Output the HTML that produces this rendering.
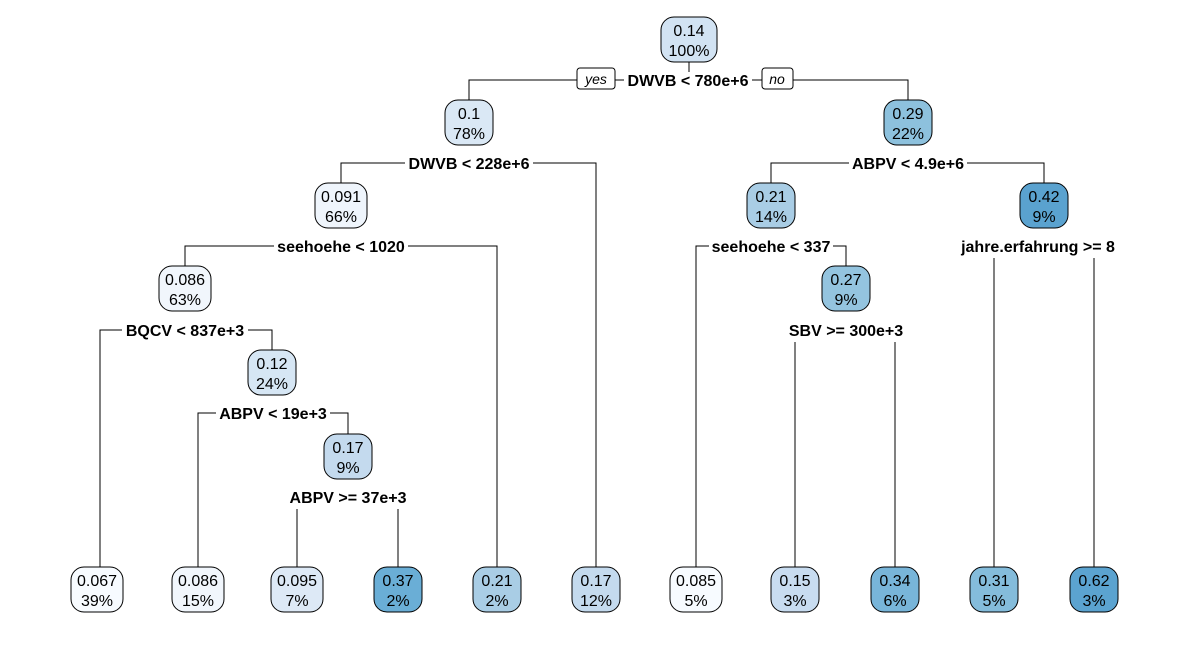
<!DOCTYPE html>
<html><head><style>body{margin:0;background:#fff}svg{display:block}
.l{paint-order:stroke;stroke:#fff;stroke-width:5px;stroke-linejoin:miter}</style></head><body>
<svg width="1200" height="668" xmlns="http://www.w3.org/2000/svg" font-family="Liberation Sans, Arial, sans-serif">
<g stroke="#000" stroke-width="1" fill="none">
<path d="M469,100V80H908V100"/>
<path d="M341,183V163H596V567"/>
<path d="M185,266V246H497V567"/>
<path d="M100,567V330H272V350"/>
<path d="M198,567V413H348V434"/>
<path d="M297,567V497H398V567"/>
<path d="M771,183V163H1044V183"/>
<path d="M696,567V246H846V266"/>
<path d="M795,567V330H895V567"/>
<path d="M994,567V246H1094V567"/>
<line x1="689" y1="62" x2="689" y2="80"/>
</g>
<g fill="#fff">
<rect x="950" y="237" width="176" height="21"/>
<rect x="283" y="488" width="130" height="21"/>
<rect x="783" y="321" width="126" height="21"/>
<rect x="624" y="72" width="128" height="17"/>
<rect x="405" y="155" width="128" height="17"/>
<rect x="274" y="238" width="134" height="17"/>
<rect x="122" y="322" width="126" height="17"/>
<rect x="216" y="405" width="114" height="17"/>
<rect x="849" y="155" width="118" height="17"/>
<rect x="709" y="238" width="124" height="17"/>
</g>
<g font-weight="bold" font-size="16" text-anchor="middle">
<text class="l" x="688" y="86">DWVB &lt; 780e+6</text>
<text class="l" x="469" y="169">DWVB &lt; 228e+6</text>
<text class="l" x="341" y="252">seehoehe &lt; 1020</text>
<text class="l" x="185" y="336">BQCV &lt; 837e+3</text>
<text class="l" x="273" y="419">ABPV &lt; 19e+3</text>
<text class="l" x="348" y="503">ABPV &gt;= 37e+3</text>
<text class="l" x="908" y="169">ABPV &lt; 4.9e+6</text>
<text class="l" x="771" y="252">seehoehe &lt; 337</text>
<text class="l" x="846" y="336">SBV &gt;= 300e+3</text>
<text class="l" x="1038" y="252">jahre.erfahrung &gt;= 8</text>
</g>
<g font-style="italic" font-size="14" text-anchor="middle">
<rect x="577" y="68" width="38" height="21" rx="3" fill="#fff" stroke="#000"/><text x="596" y="84">yes</text>
<rect x="762" y="68" width="31" height="21" rx="3" fill="#fff" stroke="#000"/><text x="777" y="84">no</text>
</g>
<g font-size="16" text-anchor="middle">
<rect x="661" y="17" width="56" height="45" rx="13" fill="#d2e3f3" stroke="#000"/><text x="689" y="36">0.14</text><text x="689" y="56">100%</text>
<rect x="445" y="100" width="48" height="45" rx="13" fill="#dae8f5" stroke="#000"/><text x="469" y="119">0.1</text><text x="469" y="139">78%</text>
<rect x="884" y="100" width="48" height="45" rx="13" fill="#8dc1dd" stroke="#000"/><text x="908" y="119">0.29</text><text x="908" y="139">22%</text>
<rect x="315" y="183" width="52" height="45" rx="13" fill="#eff5fc" stroke="#000"/><text x="341" y="202">0.091</text><text x="341" y="222">66%</text>
<rect x="747" y="183" width="48" height="45" rx="13" fill="#a9cde5" stroke="#000"/><text x="771" y="202">0.21</text><text x="771" y="222">14%</text>
<rect x="1020" y="183" width="48" height="45" rx="13" fill="#5aa2cf" stroke="#000"/><text x="1044" y="202">0.42</text><text x="1044" y="222">9%</text>
<rect x="159" y="266" width="52" height="45" rx="13" fill="#f1f6fc" stroke="#000"/><text x="185" y="285">0.086</text><text x="185" y="305">63%</text>
<rect x="822" y="266" width="48" height="45" rx="13" fill="#94c4df" stroke="#000"/><text x="846" y="285">0.27</text><text x="846" y="305">9%</text>
<rect x="248" y="350" width="48" height="45" rx="13" fill="#d6e6f4" stroke="#000"/><text x="272" y="369">0.12</text><text x="272" y="389">24%</text>
<rect x="324" y="434" width="48" height="45" rx="13" fill="#c4daee" stroke="#000"/><text x="348" y="453">0.17</text><text x="348" y="473">9%</text>
<rect x="71" y="567" width="52" height="45" rx="13" fill="#f7fbff" stroke="#000"/><text x="97" y="586">0.067</text><text x="97" y="606">39%</text>
<rect x="172" y="567" width="52" height="45" rx="13" fill="#f1f6fc" stroke="#000"/><text x="198" y="586">0.086</text><text x="198" y="606">15%</text>
<rect x="271" y="567" width="52" height="45" rx="13" fill="#dde9f6" stroke="#000"/><text x="297" y="586">0.095</text><text x="297" y="606">7%</text>
<rect x="374" y="567" width="48" height="45" rx="13" fill="#6aaed6" stroke="#000"/><text x="398" y="586">0.37</text><text x="398" y="606">2%</text>
<rect x="473" y="567" width="48" height="45" rx="13" fill="#a9cde5" stroke="#000"/><text x="497" y="586">0.21</text><text x="497" y="606">2%</text>
<rect x="572" y="567" width="48" height="45" rx="13" fill="#c4daee" stroke="#000"/><text x="596" y="586">0.17</text><text x="596" y="606">12%</text>
<rect x="670" y="567" width="52" height="45" rx="13" fill="#f7fbff" stroke="#000"/><text x="696" y="586">0.085</text><text x="696" y="606">5%</text>
<rect x="771" y="567" width="48" height="45" rx="13" fill="#c8dcf0" stroke="#000"/><text x="795" y="586">0.15</text><text x="795" y="606">3%</text>
<rect x="871" y="567" width="48" height="45" rx="13" fill="#78b5d9" stroke="#000"/><text x="895" y="586">0.34</text><text x="895" y="606">6%</text>
<rect x="970" y="567" width="48" height="45" rx="13" fill="#84bcdb" stroke="#000"/><text x="994" y="586">0.31</text><text x="994" y="606">5%</text>
<rect x="1070" y="567" width="48" height="45" rx="13" fill="#5ba3d0" stroke="#000"/><text x="1094" y="586">0.62</text><text x="1094" y="606">3%</text>
</g>
</svg>
</body></html>
